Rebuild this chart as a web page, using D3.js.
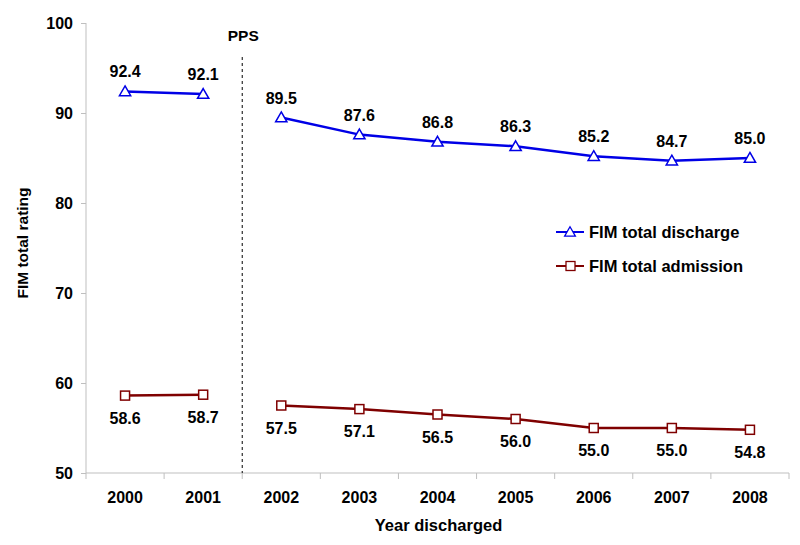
<!DOCTYPE html>
<html><head><meta charset="utf-8">
<script src="https://cdn.jsdelivr.net/npm/d3@7"></script>
<style>body{margin:0;background:#fff}svg{display:block;font-family:"Liberation Sans",Arial,sans-serif;font-weight:bold}</style>
</head><body><svg id="c" width="800" height="545"></svg>
<script>
const years = ["2000","2001","2002","2003","2004","2005","2006","2007","2008"];
const discharge = [92.4,92.1,89.5,87.6,86.8,86.3,85.2,84.7,85.0];
const admission = [58.6,58.7,57.5,57.1,56.5,56.0,55.0,55.0,54.8];
const yTicks = [50,60,70,80,90,100];
const segments = [["2000","2001"],["2002","2003","2004","2005","2006","2007","2008"]];
const svg = d3.select("#c");
const m = {l:86,r:789,t:23,b:473};
const x = d3.scaleBand().domain(years).range([m.l,m.r]);
const y = d3.scaleLinear().domain([50,100]).range([m.b,m.t]);
const cx = d => x(d)+x.bandwidth()/2;
const gray = "#bfbfbf";
// y axis
const ya = svg.append("g").attr("transform",`translate(${m.l},0)`).call(d3.axisLeft(y).tickValues(yTicks).tickSize(5).tickPadding(8));
ya.select(".domain").attr("stroke",gray).attr("d",`M0,${m.t}V${m.b}`);
ya.selectAll(".tick line").attr("stroke",gray);
ya.selectAll("text").attr("font-size",16).attr("font-family","Liberation Sans, Arial").attr("font-weight","bold").attr("fill","#000");
// x axis
const xa = svg.append("g").attr("transform",`translate(0,${m.b})`).call(d3.axisBottom(x).tickSize(0).tickPadding(19));
xa.select(".domain").attr("stroke",gray).attr("d",`M${m.l},0H${m.r}`);
xa.selectAll("text").attr("font-size",16).attr("font-family","Liberation Sans, Arial").attr("font-weight","bold").attr("fill","#000");
xa.selectAll(".bt").data(years.concat(["end"])).enter().append("line")
  .attr("x1",(d,i)=> i<years.length ? x(d) : m.r).attr("x2",(d,i)=> i<years.length ? x(d) : m.r)
  .attr("y1",0).attr("y2",6).attr("stroke",gray);
// PPS line
svg.append("line").attr("x1",x("2002")).attr("x2",x("2002")).attr("y1",57).attr("y2",m.b)
  .attr("stroke","#000").attr("stroke-dasharray","3,3").attr("stroke-width",1);
svg.append("text").attr("x",x("2002")+1).attr("y",41).attr("text-anchor","middle").attr("font-size",15.5).text("PPS");
// titles
svg.append("text").attr("x",(m.l+m.r)/2+1).attr("y",531).attr("text-anchor","middle").attr("font-size",16.5).text("Year discharged");
svg.append("text").attr("transform",`translate(28,243) rotate(-90)`).attr("text-anchor","middle").attr("font-size",15.5).text("FIM total rating");
const line = d3.line().x(d=>cx(d.k)).y(d=>y(d.v));
function series(vals,color,shape,dy){
  const data = years.map((k,i)=>({k,v:vals[i]}));
  const g = svg.append("g");
  segments.forEach(seg=>{
    g.append("path").datum(data.filter(d=>seg.includes(d.k))).attr("d",line).attr("fill","none").attr("stroke",color).attr("stroke-width",2.5);
  });
  if(shape==="tri"){
    g.selectAll("path.m").data(data).enter().append("path").attr("class","m")
      .attr("d",d3.symbol(d3.symbolTriangle,55)).attr("transform",d=>`translate(${cx(d.k)},${y(d.v)+1})`)
      .attr("fill","#fff").attr("stroke",color).attr("stroke-width",1.5);
  } else {
    g.selectAll("rect.m").data(data).enter().append("rect").attr("class","m")
      .attr("x",d=>cx(d.k)-4.5).attr("y",d=>y(d.v)-4.5).attr("width",9).attr("height",9)
      .attr("fill","#fff").attr("stroke",color).attr("stroke-width",1.5);
  }
  g.selectAll("text").data(data).enter().append("text").attr("x",d=>cx(d.k)).attr("y",d=>y(d.v)+dy)
    .attr("text-anchor","middle").attr("font-size",16).text(d=>d.v.toFixed(1));
}
series(discharge,"#0000e6","tri",-14);
series(admission,"#7f0000","sq",28);
// legend
const leg = [["FIM total discharge","#0000e6","tri"],["FIM total admission","#7f0000","sq"]];
leg.forEach((l,i)=>{
  const yy = 232+i*34;
  svg.append("line").attr("x1",556).attr("x2",584).attr("y1",yy).attr("y2",yy).attr("stroke",l[1]).attr("stroke-width",2);
  if(l[2]==="tri") svg.append("path").attr("d",d3.symbol(d3.symbolTriangle,50)).attr("transform",`translate(570,${yy+1})`).attr("fill","#fff").attr("stroke",l[1]).attr("stroke-width",1.3);
  else svg.append("rect").attr("x",566).attr("y",yy-4.5).attr("width",9).attr("height",9).attr("fill","#fff").attr("stroke",l[1]).attr("stroke-width",1.3);
  svg.append("text").attr("x",589).attr("y",yy+5.5).attr("font-size",16.5).text(l[0]);
});
</script></body></html>
